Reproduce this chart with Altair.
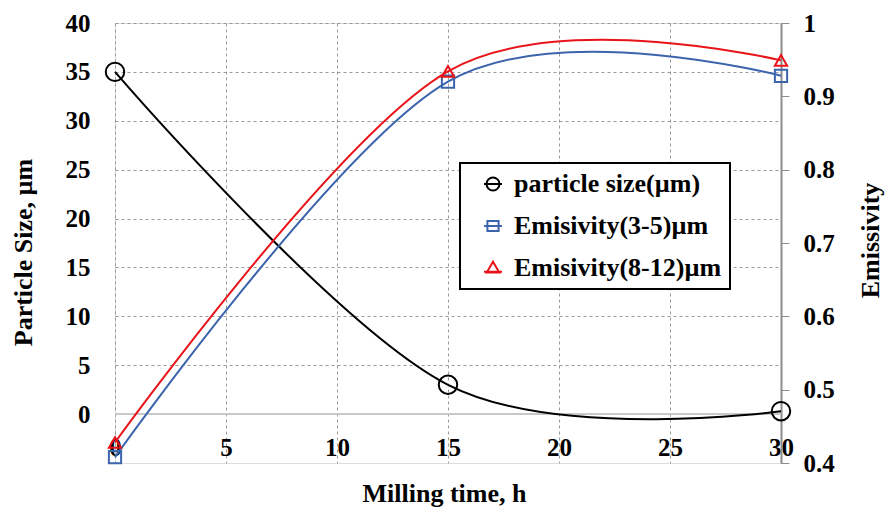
import altair as alt
import pandas as pd

# Measured series
milling_time = [0, 15, 30]
particle_size = [35, 3, 0.3]
emissivity_3_5 = [0.408, 0.920, 0.928]
emissivity_8_12 = [0.428, 0.934, 0.949]

series_labels = ["particle size(µm)", "Emisivity(3-5)µm", "Emisivity(8-12)µm"]
series_colors = ["#000000", "#3b64ad", "#e8141a"]

time_ticks = [0, 5, 10, 15, 20, 25, 30]
size_ticks = [0, 5, 10, 15, 20, 25, 30, 35, 40]
emis_ticks = [0.4, 0.5, 0.6, 0.7, 0.8, 0.9, 1.0]

FONT = "Liberation Serif"
GRID = "#9a9a9a"

df = pd.DataFrame({
    "time": milling_time,
    "size": particle_size,
    "e35": emissivity_3_5,
    "e812": emissivity_8_12,
})
legend_df = pd.DataFrame({"series": series_labels})

# legend glyphs: a short stroke through each marker, in Vega's [-1, 1] symbol box
legend_shapes = [
    "M-1,0H1M0.72,0A0.72,0.72 0 1 1 -0.72,0A0.72,0.72 0 1 1 0.72,0",
    "M-1,0H1M-0.62,-0.55H0.62V0.55H-0.62Z",
    "M-1,0.42H1M0,-0.7L0.7,0.5L-0.7,0.5Z",
]

text_style = dict(labelFont=FONT, labelFontWeight="bold", labelColor="black",
                  titleFont=FONT, titleFontWeight="bold", titleColor="black")

x_enc = alt.X(
    "time:Q",
    scale=alt.Scale(domain=[0, 30], nice=False, zero=False),
    axis=alt.Axis(values=time_ticks, title="Milling time, h", grid=True,
                  gridDash=[3, 3], gridColor=GRID, gridWidth=1, ticks=False,
                  domain=False, labelPadding=-28, labelFlush=False,
                  labelFontSize=25, titleFontSize=26,
                  titleX=329, titleY=30, titleBaseline="middle", titleAlign="center",
                  **text_style),
)

size_scale = alt.Scale(domain=[-5, 40], nice=False, zero=False)
size_axis = alt.Axis(orient="left", values=size_ticks, title="Particle Size, µm",
                     grid=True, gridDash=[3, 3], gridColor=GRID, gridWidth=1,
                     ticks=False, domain=False, labelPadding=25,
                     labelFontSize=25, titleFontSize=26,
                     titleX=-92, titleY=229, titleBaseline="middle", titleAlign="center",
                     titleAngle=270, **text_style)

emis_scale = alt.Scale(domain=[0.4, 1.0], nice=False, zero=False)
emis_axis = alt.Axis(orient="right", values=emis_ticks, format=".1~f",
                     title="Emissivity", grid=False, ticks=True, tickSize=8,
                     tickColor="#8c8c8c", domain=True, domainColor="#8c8c8c",
                     domainWidth=2, labelPadding=14, labelFontSize=25,
                     titleFontSize=26, titleAngle=270,
                     titleX=89, titleY=217, titleBaseline="middle", titleAlign="center",
                     **text_style)

base = alt.Chart(df)

# particle size on the left scale
zero_rule = base.mark_rule(color="#c8c8c8", strokeWidth=1.5).encode(
    y=alt.datum(0, scale=size_scale, axis=size_axis)
)
size_line = base.mark_line(interpolate="cardinal", color=series_colors[0], strokeWidth=2).encode(
    x=x_enc, y=alt.Y("size:Q", scale=size_scale, axis=size_axis)
)
size_pts = base.mark_point(shape="circle", filled=False, size=340, strokeWidth=2,
                           color=series_colors[0], opacity=1).encode(
    x=x_enc, y=alt.Y("size:Q", scale=size_scale, axis=size_axis)
)

# emissivity on the right scale
def emis_layers(field, color, shape, size):
    y = alt.Y(f"{field}:Q", scale=emis_scale, axis=emis_axis)
    line = base.mark_line(interpolate="cardinal", color=color, strokeWidth=2).encode(x=x_enc, y=y)
    pts = base.mark_point(shape=shape, filled=False, size=size, strokeWidth=2,
                          color=color, opacity=1).encode(x=x_enc, y=y)
    return [line, pts]

legend_def = alt.Legend(
    title=None, orient="none", legendX=345, legendY=140,
    strokeColor="black", fillColor="white", padding=8,
    symbolSize=324, symbolStrokeWidth=2, symbolOffset=12,
    labelOffset=8, rowPadding=16, labelFont=FONT, labelFontSize=26,
    labelFontWeight="bold", labelColor="black", labelLimit=400,
)
legend_layer = alt.Chart(legend_df).mark_point(filled=False, opacity=1, strokeWidth=2).encode(
    color=alt.Color("series:N", scale=alt.Scale(domain=series_labels, range=series_colors), legend=legend_def),
    shape=alt.Shape("series:N", scale=alt.Scale(domain=series_labels, range=legend_shapes), legend=legend_def),
).transform_filter("false")

left = alt.layer(zero_rule, size_line, size_pts)
right = alt.layer(
    *emis_layers("e35", series_colors[1], "square", 150),
    *emis_layers("e812", series_colors[2], "triangle-up", 150),
    legend_layer,
)

chart = (
    alt.layer(left, right)
    .resolve_scale(y="independent")
    .properties(
        width=666, height=440,
        padding={"left": 115, "top": 23, "right": 104, "bottom": 44},
        autosize=alt.AutoSizeParams(type="none"),
        background="white",
    )
    .configure_view(stroke="black", strokeWidth=2)
    .configure(font=FONT)
    .configure_legend(strokeWidth=2)
)

chart.save("out.html", embed_options={"renderer": "svg", "actions": False})
